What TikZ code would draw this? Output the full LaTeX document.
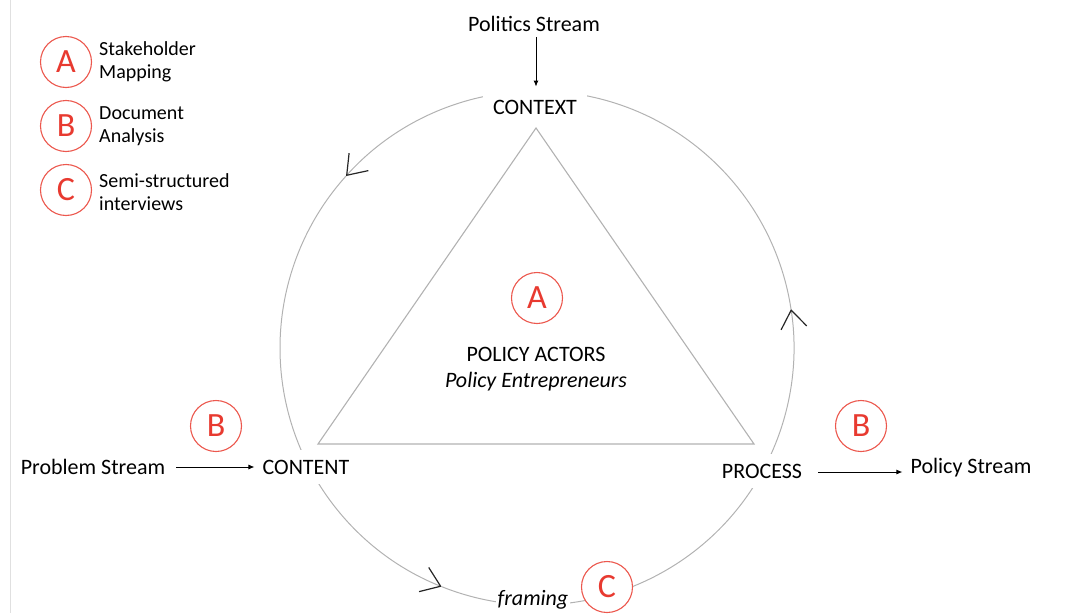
\documentclass[tikz,border=0pt]{standalone}
\usepackage{fontspec}
\setmainfont{Carlito}
\usetikzlibrary{arrows.meta}
\definecolor{ringgray}{RGB}{178,178,178}
\definecolor{mred}{RGB}{232,58,48}
\definecolor{mredline}{RGB}{236,88,78}
\begin{document}
\begin{tikzpicture}[x=1pt,y=1pt,
  lab/.style={font=\fontsize{22}{26}\selectfont, inner sep=0pt},
  ringlab/.style={font=\fontsize{22}{26}\selectfont, fill=white, inner sep=10pt},
  badge/.style={circle, draw=mredline, fill=white, line width=1.1pt, minimum size=51pt, inner sep=0pt, text=mred, font=\fontsize{34}{34}\selectfont},
  legtxt/.style={font=\fontsize{20}{23.5}\selectfont, align=left, anchor=west, inner sep=0pt},
  ring/.style={draw=ringgray, line width=1pt},
  flow/.style={ring, -{Straight Barb[color=black!85, length=18pt, width=26pt, line width=1.2pt]}},
  feed/.style={draw=black, line width=0.9pt, -{Latex[length=6pt,width=5pt]}}
]
\useasboundingbox (0,0) rectangle (1089,-613);
\draw[black!12, line width=0.8pt] (10,0) -- (10,-613);

% cycle ring
\coordinate (O) at (537,-348);
\draw[ring] (O) ++(8.7:257) arc[start angle=8.7, end angle=90, radius=257];
\draw[flow] (O) ++(90:257) arc[start angle=90, end angle=138, radius=257];
\draw[flow] (O) ++(138:257) arc[start angle=138, end angle=248.2, radius=257];
\draw[flow] (O) ++(248.2:257) arc[start angle=248.2, end angle=368.7, radius=257];

% triangle
\coordinate (tA) at (536,-128);
\coordinate (tB) at (318,-444);
\coordinate (tC) at (754,-444);
\draw[draw=ringgray, line width=1.1pt, line join=miter] (tA) -- (tB) -- (tC) -- cycle;

% ring labels
\node[ringlab] (context) at (535,-107) {CONTEXT};
\node[ringlab] (content) at (306,-467) {CONTENT};
\node[ringlab] (process) at (762,-471) {PROCESS};
\node[font=\fontsize{22}{26}\selectfont\itshape, fill=white, inner xsep=1.5pt, inner ysep=3pt] (framing) at (533,-600) {framing};

% streams
\node[lab] (politics) at (534,-24) {Politics Stream};
\node[lab] (problem) at (93,-467) {Problem Stream};
\node[lab] (policy) at (971,-468) {Policy Stream};

\draw[feed, shorten <=5pt, shorten >=3pt] ([xshift=2pt]politics.south) -- ([xshift=2pt]politics.south |- context.north);
\draw[feed, shorten <=11pt, shorten >=-2pt] (problem.east) -- (problem.east -| content.west);
\draw[feed, shorten <=6pt, shorten >=8pt] ([yshift=-1pt]process.east) -- ([yshift=-1pt]process.east -| policy.west);

% centre
\node[badge] (bA) at (537,-298) {A};
\node[lab] (actors) at (536,-354) {POLICY ACTORS};
\node[lab, font=\fontsize{22}{26}\selectfont\itshape] (entre) at (536,-382) {Policy Entrepreneurs};

% method badges
\node[badge] (bBl) at (216,-426) {B};
\node[badge] (bBr) at (861,-426) {B};
\node[badge] (bC) at (607,-587) {C};

% legend
\node[badge] (lA) at (66,-62) {A};
\node[badge] (lB) at (66,-126) {B};
\node[badge] (lC) at (66,-190) {C};
\node[legtxt] (tlA) at (99,-62) {Stakeholder\\Mapping};
\node[legtxt] (tlB) at (99,-126) {Document\\Analysis};
\node[legtxt] (tlC) at (99,-192) {Semi-structured\\interviews};
\end{tikzpicture}
\end{document}
